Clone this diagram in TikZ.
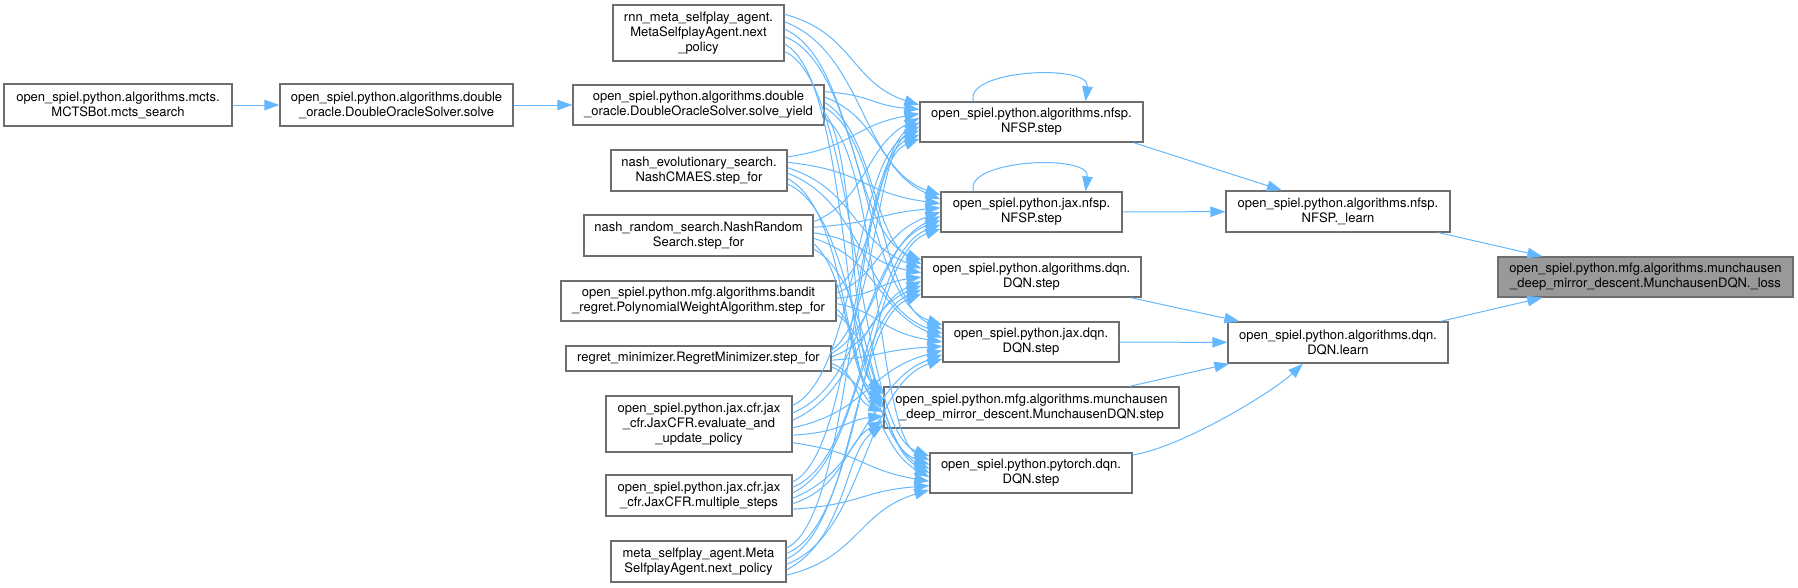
\documentclass[tikz,border=0pt]{standalone}
\usepackage{fontspec}
\setmainfont{TeX Gyre Heros}
\usetikzlibrary{arrows.meta,calc}
\definecolor{boxgray}{HTML}{6E6E6E}
\definecolor{rootgray}{HTML}{999999}
\definecolor{edgeblue}{HTML}{63B8FF}
\tikzset{
  box/.style={draw=boxgray, line width=1.3pt, fill=white, inner sep=0pt, align=center,
              font=\fontsize{13}{15}\selectfont},
  root/.style={box, fill=rootgray},
  edge/.style={draw=edgeblue, line width=1pt, -{Triangle[length=15pt,width=10.5pt]}},
}
\begin{document}
\begin{tikzpicture}[x=1pt,y=-1pt]
\useasboundingbox (0,0) rectangle (1798,587);
% left part
\node[box,minimum width=228pt,minimum height=42pt] (mcts) at (118,105) {open\_spiel.python.algorithms.mcts.\\MCTSBot.mcts\_search};
\node[box,minimum width=233pt,minimum height=42pt] (solve) at (396.5,105) {open\_spiel.python.algorithms.double\\\_oracle.DoubleOracleSolver.solve};
% caller column
\node[box,minimum width=171pt,minimum height=56pt] (rnn) at (698.5,33) {rnn\_meta\_selfplay\_agent.\\MetaSelfplayAgent.next\\\_policy};
\node[box,minimum width=251pt,minimum height=40pt] (yield) at (698.5,105) {open\_spiel.python.algorithms.double\\\_oracle.DoubleOracleSolver.solve\_yield};
\node[box,minimum width=176pt,minimum height=41pt] (evo) at (699,170.5) {nash\_evolutionary\_search.\\NashCMAES.step\_for};
\node[box,minimum width=229pt,minimum height=41pt] (random) at (698.5,235.5) {nash\_random\_search.NashRandom\\Search.step\_for};
\node[box,minimum width=275pt,minimum height=40pt] (bandit) at (698.5,301) {open\_spiel.python.mfg.algorithms.bandit\\\_regret.PolynomialWeightAlgorithm.step\_for};
\node[box,minimum width=265pt,minimum height=25pt] (regret) at (698.5,358.5) {regret\_minimizer.RegretMinimizer.step\_for};
\node[box,minimum width=186pt,minimum height=56pt] (eval) at (699,424) {open\_spiel.python.jax.cfr.jax\\\_cfr.JaxCFR.evaluate\_and\\\_update\_policy};
\node[box,minimum width=186pt,minimum height=41pt] (multiple) at (699,495.5) {open\_spiel.python.jax.cfr.jax\\\_cfr.JaxCFR.multiple\_steps};
\node[box,minimum width=175pt,minimum height=41pt] (meta) at (698.5,561.5) {meta\_selfplay\_agent.Meta\\SelfplayAgent.next\_policy};
% middle column
\node[box,minimum width=223pt,minimum height=40pt] (nfsp) at (1031.5,122) {open\_spiel.python.algorithms.nfsp.\\NFSP.step};
\node[box,minimum width=181pt,minimum height=40pt] (jaxnfsp) at (1031.5,212) {open\_spiel.python.jax.nfsp.\\NFSP.step};
\node[box,minimum width=219pt,minimum height=40pt] (dqn) at (1031.5,277) {open\_spiel.python.algorithms.dqn.\\DQN.step};
\node[box,minimum width=176pt,minimum height=40pt] (jaxdqn) at (1031,342) {open\_spiel.python.jax.dqn.\\DQN.step};
\node[box,minimum width=295pt,minimum height=41pt] (munch) at (1031.5,407.5) {open\_spiel.python.mfg.algorithms.munchausen\\\_deep\_mirror\_descent.MunchausenDQN.step};
\node[box,minimum width=202pt,minimum height=40pt] (pytorch) at (1031,473) {open\_spiel.python.pytorch.dqn.\\DQN.step};
% right
\node[box,minimum width=224pt,minimum height=41pt] (nfsplearn) at (1338,211.5) {open\_spiel.python.algorithms.nfsp.\\NFSP.\_learn};
\node[box,minimum width=220pt,minimum height=41pt] (dqnlearn) at (1338,342.5) {open\_spiel.python.algorithms.dqn.\\DQN.learn};
\node[root,minimum width=295pt,minimum height=40pt] (loss) at (1645.5,277) {open\_spiel.python.mfg.algorithms.munchausen\\\_deep\_mirror\_descent.MunchausenDQN.\_loss};

% edges
\draw[edge] (mcts) -- (solve);
\draw[edge] (solve) -- (yield);
\foreach \s/\sx/\sy/\sh/\i in {rnn/784/33/56/1, yield/824/105/40/2, evo/787/170.5/41/3, random/813/235.5/41/4, bandit/836/301/40/5, regret/831/358.5/25/6, eval/792/424/56/7, multiple/792/495.5/41/8, meta/786/561.5/41/9}{
  \foreach \t/\tx/\ty/\th/\j in {nfsp/920/122/40/1, jaxnfsp/941/212/40/2, dqn/922/277/40/3, jaxdqn/943/342/40/4, munch/884/407.5/41/5, pytorch/930/473/40/6}{
    \pgfmathsetmacro\dy{\ty-\sy}
    \pgfmathsetmacro\oa{(\j-3.5)*\sh/7.5}
    \pgfmathsetmacro\ob{(\i-5)*\th/9.5}
    \pgfmathsetmacro\xm{max(845,min(880,(\sx+\tx)/2))}
    \pgfmathsetmacro\da{max(25,\xm-\sx)}
    \pgfmathsetmacro\db{max(30,\tx-\xm)}
    \pgfmathsetmacro\fa{max(-30,min(30,0.2*\dy))}
    \pgfmathsetmacro\eb{max(-28,min(28,0.25*\dy))}
    \draw[edge] ($(\s.east)+(0,\oa)$) .. controls +(\da,\fa) and +(-\db,-\eb) .. ($(\t.west)+(0,\ob)$);
  }
}
% self loops
\draw[edge] ([xshift=-58pt]nfsp.north) .. controls +(-10,-32) and +(5,-38) .. ([xshift=54pt]nfsp.north);
\draw[edge] ([xshift=-58pt]jaxnfsp.north) .. controls +(-10,-32) and +(5,-38) .. ([xshift=54pt]jaxnfsp.north);
% to learn nodes
\draw[edge] ([xshift=-10pt]nfsp.south east) -- ([xshift=-56pt]nfsplearn.north);
\draw[edge] (jaxnfsp) -- (nfsplearn);
\draw[edge] ([xshift=-11pt]dqn.south east) -- ([xshift=12pt]dqnlearn.north west);
\draw[edge] (jaxdqn) -- (dqnlearn);
\draw[edge] ([xshift=98pt]munch.north) -- ([xshift=2pt]dqnlearn.south west);
\draw[edge] ([yshift=18pt]pytorch.east) .. controls +(50,-8) and +(-30,28) .. ([xshift=-35pt]dqnlearn.south);
% to root
\draw[edge] ([xshift=-12pt]nfsplearn.south east) -- ([xshift=45pt]loss.north west);
\draw[edge] ([xshift=-8pt]dqnlearn.north east) -- ([xshift=45pt]loss.south west);
\end{tikzpicture}
\end{document}
